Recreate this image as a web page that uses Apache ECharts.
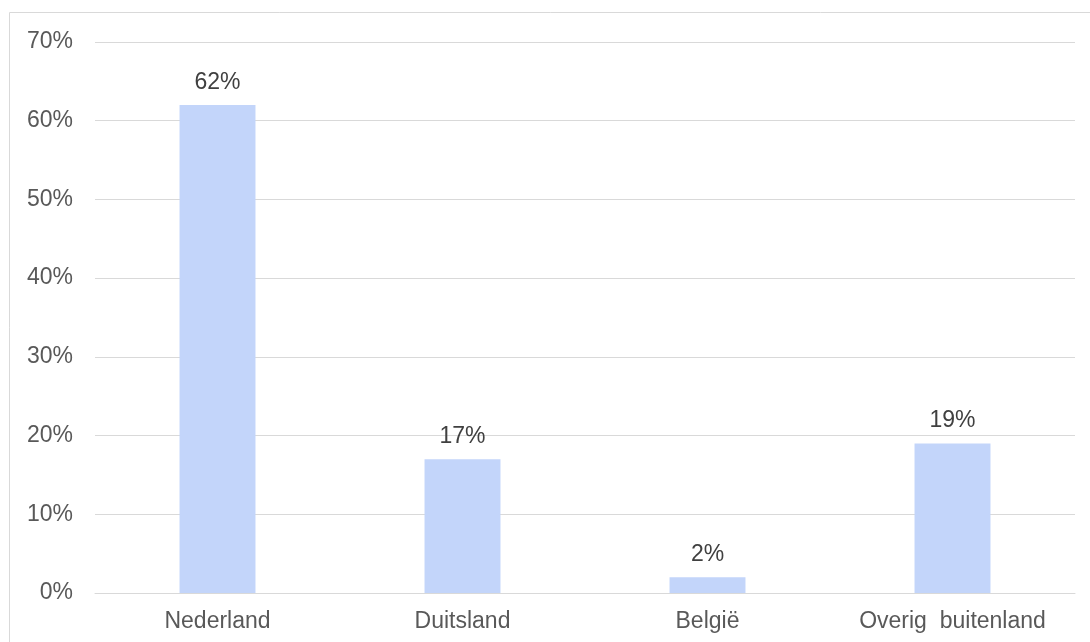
<!DOCTYPE html>
<html><head><meta charset="utf-8">
<script src="https://cdn.jsdelivr.net/npm/echarts@6/dist/echarts.min.js"></script>
<style>html,body{margin:0;padding:0;background:#fff}#c{width:1090px;height:642px}</style>
</head><body><div id="c"></div>
<script>
const categories = ['Nederland', 'Duitsland', 'België', 'Overig  buitenland'];
const values = [62, 17, 2, 19];
const yTicks = [0, 10, 20, 30, 40, 50, 60, 70];

const chart = echarts.init(document.getElementById('c'), null, {renderer: 'canvas'});
chart.setOption({
  animation: false,
  graphic: [{
    type: 'rect', shape: {x: 9.5, y: 12.5, width: 1200, height: 800},
    style: {fill: 'none', stroke: '#d9d9d9', lineWidth: 1}, silent: true
  }],
  grid: {left: 95, right: 15, top: 42, bottom: 49, containLabel: false},
  xAxis: {
    type: 'category', data: categories,
    axisLine: {show: true, lineStyle: {color: '#d9d9d9', width: 1}},
    axisTick: {show: false},
    axisLabel: {color: '#595959', fontSize: 23, fontFamily: 'Liberation Sans, Arial', margin: 17, interval: 0}
  },
  yAxis: {
    type: 'value', min: yTicks[0], max: yTicks[yTicks.length - 1], interval: 10,
    axisLine: {show: false}, axisTick: {show: false},
    axisLabel: {color: '#595959', fontSize: 23, fontFamily: 'Liberation Sans, Arial', margin: 22, formatter: v => v + '%'},
    splitLine: {lineStyle: {color: '#d9d9d9', width: 1}}
  },
  series: [{
    type: 'bar', data: values, barWidth: '31%',
    itemStyle: {color: '#c3d5fa'},
    label: {show: true, position: 'top', distance: 11, color: '#404040', fontSize: 23,
      fontFamily: 'Liberation Sans, Arial', formatter: p => p.value + '%'}
  }]
});
</script></body></html>
